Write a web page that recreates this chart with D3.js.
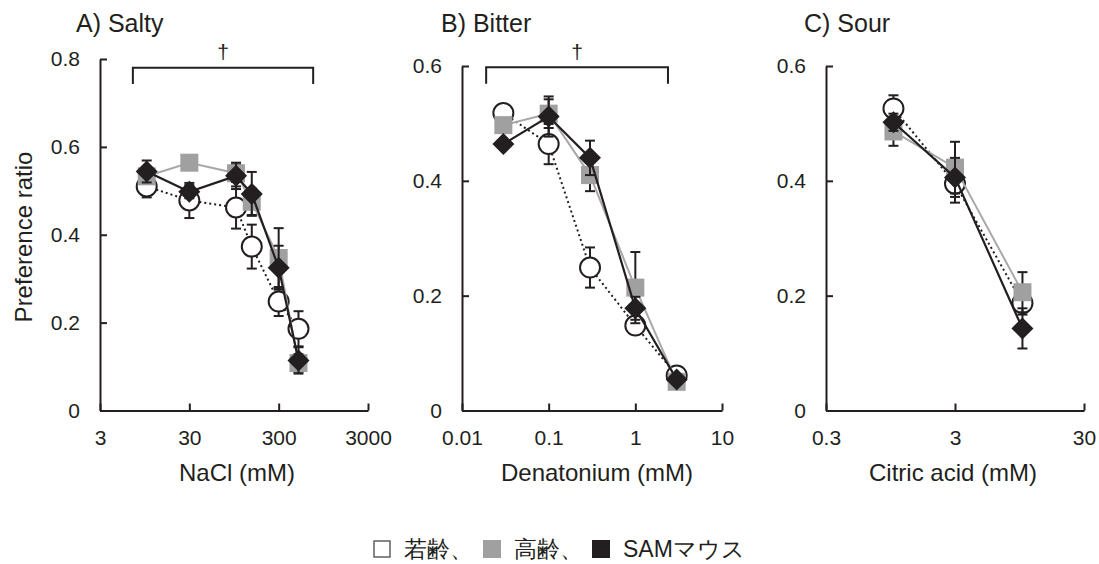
<!DOCTYPE html>
<html>
<head>
<meta charset="utf-8">
<script src="https://cdn.jsdelivr.net/npm/d3@7"></script>
<style>
  body { margin: 0; background: #fff; }
  text { font-family: "Liberation Sans", Arial, sans-serif; fill: #231f20; }
</style>
</head>
<body>
<div id="chart"></div>
<script>
// chart data
var saltyConc = [10, 30, 100, 150, 300, 500];
var saltyYoung = [0.51, 0.478, 0.462, 0.373, 0.248, 0.186];
var saltyYoungSE = [0.025, 0.04, 0.048, 0.05, 0.033, 0.04];
var saltyAged = [0.533, 0.564, 0.54, 0.475, 0.347, 0.108];
var saltyAgedSE = [0.01, 0.01, 0.02, 0.03, 0.068, 0.02];
var saltySAM = [0.544, 0.498, 0.534, 0.493, 0.325, 0.114];
var saltySAMSE = [0.025, 0.015, 0.03, 0.05, 0.05, 0.03];

var bitterConc = [0.03, 0.1, 0.3, 1, 3];
var bitterYoung = [0.518, 0.464, 0.249, 0.148, 0.061];
var bitterYoungSE = [0.01, 0.035, 0.035, 0.01, 0.008];
var bitterAged = [0.497, 0.517, 0.41, 0.214, 0.05];
var bitterAgedSE = [0.01, 0.025, 0.028, 0.062, 0.005];
var bitterSAM = [0.464, 0.512, 0.44, 0.178, 0.054];
var bitterSAMSE = [0.005, 0.035, 0.03, 0.02, 0.005];

var sourConc = [1, 3, 10];
var sourYoung = [0.526, 0.395, 0.187];
var sourYoungSE = [0.023, 0.033, 0.02];
var sourAged = [0.486, 0.423, 0.206];
var sourAgedSE = [0.025, 0.045, 0.035];
var sourSAM = [0.502, 0.406, 0.143];
var sourSAMSE = [0.015, 0.034, 0.035];

var saltyXTicks = [3, 30, 300, 3000];
var bitterXTicks = [0.01, 0.1, 1, 10];
var sourXTicks = [0.3, 3, 30];
var saltyYTicks = [0, 0.2, 0.4, 0.6, 0.8];
var otherYTicks = [0, 0.2, 0.4, 0.6];

var legendLabels = ["若齢、", "高齢、", "SAMマウス"];

var svgWidth = 1099;
var svgHeight = 564;
var dark = "#231f20";
var grey = "#a0a0a0";
var greyLine = "#a8a8a8";

var svg = d3.select("#chart").append("svg")
    .attr("width", svgWidth)
    .attr("height", svgHeight);

var panels = [
    {title: "A) Salty", xlabel: "NaCl (mM)", conc: saltyConc, xticks: saltyXTicks, yticks: saltyYTicks,
     left: 100, right: 368, top: 59, yMax: 0.8, titleX: 76, labelX: 237,
     young: saltyYoung, youngSE: saltyYoungSE, aged: saltyAged, agedSE: saltyAgedSE, sam: saltySAM, samSE: saltySAMSE,
     bracket: [7, 730, 0.78, 0.743]},
    {title: "B) Bitter", xlabel: "Denatonium (mM)", conc: bitterConc, xticks: bitterXTicks, yticks: otherYTicks,
     left: 462, right: 722, top: 66, yMax: 0.6, titleX: 441, labelX: 597,
     young: bitterYoung, youngSE: bitterYoungSE, aged: bitterAged, agedSE: bitterAgedSE, sam: bitterSAM, samSE: bitterSAMSE,
     bracket: [0.019, 2.38, 0.598, 0.569]},
    {title: "C) Sour", xlabel: "Citric acid (mM)", conc: sourConc, xticks: sourXTicks, yticks: otherYTicks,
     left: 826, right: 1084, top: 66, yMax: 0.6, titleX: 804, labelX: 953,
     young: sourYoung, youngSE: sourYoungSE, aged: sourAged, agedSE: sourAgedSE, sam: sourSAM, samSE: sourSAMSE,
     bracket: null}
];

var bottom = 410.5;

panels.forEach(function(p) {
    var x = d3.scaleLog()
        .domain([p.xticks[0], p.xticks[p.xticks.length - 1]])
        .range([p.left, p.right]);
    var y = d3.scaleLinear()
        .domain([0, p.yMax])
        .range([bottom, p.top]);

    var g = svg.append("g");

    // axes - ticks pointing inwards like the excel original
    var xAxis = g.append("g")
        .attr("transform", `translate(0, ${bottom})`)
        .call(d3.axisBottom(x).tickValues(p.xticks).tickSizeInner(-7).tickSizeOuter(0).tickPadding(16)
            .tickFormat(d => String(d)));
    var yAxis = g.append("g")
        .attr("transform", `translate(${p.left}, 0)`)
        .call(d3.axisLeft(y).tickValues(p.yticks).tickSizeInner(-7).tickSizeOuter(0).tickPadding(27)
            .tickFormat(d => d === 0 ? "0" : d3.format(".1f")(d)));

    [xAxis, yAxis].forEach(function(a) {
        a.select(".domain").attr("stroke", dark).attr("stroke-width", 2);
        a.selectAll(".tick line").attr("stroke", dark).attr("stroke-width", 2);
        a.selectAll(".tick text").attr("font-size", 21).attr("fill", dark)
            .attr("font-family", "Liberation Sans, Arial, sans-serif");
    });
    xAxis.selectAll(".tick text").attr("dy", "0.71em").attr("y", 20);
    yAxis.selectAll(".tick text").attr("x", -20);

    // title + axis label
    g.append("text")
        .attr("x", p.titleX).attr("y", 32)
        .attr("font-size", 25)
        .text(p.title);
    g.append("text")
        .attr("x", p.labelX).attr("y", 481)
        .attr("text-anchor", "middle")
        .attr("font-size", 24)
        .text(p.xlabel);

    // significance bracket
    if (p.bracket) {
        var b = p.bracket;
        g.append("path")
            .attr("d", `M${x(b[0])},${y(b[3])}V${y(b[2])}H${x(b[1])}V${y(b[3])}`)
            .attr("fill", "none")
            .attr("stroke", dark)
            .attr("stroke-width", 2);
        g.append("text")
            .attr("x", (x(b[0]) + x(b[1])) / 2).attr("y", 59)
            .attr("text-anchor", "middle")
            .attr("font-size", 21)
            .text("†");
    }

    var series = [
        {vals: p.young, se: p.youngSE, line: dark, dash: "2,3", width: 2, marker: "circle"},
        {vals: p.aged, se: p.agedSE, line: greyLine, dash: null, width: 2, marker: "square"},
        {vals: p.sam, se: p.samSE, line: dark, dash: null, width: 2.2, marker: "diamond"}
    ];

    series.forEach(function(s) {
        var pts = p.conc.map((c, i) => ({c: c, v: s.vals[i], e: s.se[i]}));

        var line = d3.line()
            .x(d => x(d.c))
            .y(d => y(d.v));
        g.append("path")
            .datum(pts)
            .attr("d", line)
            .attr("fill", "none")
            .attr("stroke", s.line)
            .attr("stroke-width", s.width)
            .attr("stroke-dasharray", s.dash);

        // error bars
        var eb = g.append("g").selectAll("g")
            .data(pts)
            .enter()
            .append("g");
        eb.append("line")
            .attr("x1", d => x(d.c)).attr("x2", d => x(d.c))
            .attr("y1", d => y(d.v - d.e)).attr("y2", d => y(d.v + d.e))
            .attr("stroke", dark).attr("stroke-width", 2);
        [-1, 1].forEach(function(sign) {
            eb.append("line")
                .attr("x1", d => x(d.c) - 5).attr("x2", d => x(d.c) + 5)
                .attr("y1", d => y(d.v + sign * d.e)).attr("y2", d => y(d.v + sign * d.e))
                .attr("stroke", dark).attr("stroke-width", 2);
        });

        // markers
        var m = g.append("g").selectAll("path")
            .data(pts)
            .enter();
        if (s.marker === "circle") {
            m.append("circle")
                .attr("cx", d => x(d.c)).attr("cy", d => y(d.v))
                .attr("r", 10)
                .attr("fill", "#fff")
                .attr("stroke", dark)
                .attr("stroke-width", 2);
        } else if (s.marker === "square") {
            m.append("rect")
                .attr("x", d => x(d.c) - 9).attr("y", d => y(d.v) - 9)
                .attr("width", 18).attr("height", 18)
                .attr("fill", grey);
        } else {
            m.append("path")
                .attr("d", d => `M${x(d.c)},${y(d.v) - 11}l11,11l-11,11l-11,-11z`)
                .attr("fill", dark);
        }
    });
});

// y axis title (shared)
svg.append("text")
    .attr("transform", "translate(32, 237) rotate(-90)")
    .attr("text-anchor", "middle")
    .attr("font-size", 24)
    .text("Preference ratio");

// legend
var legendX = [373, 483, 592];
var legendFill = ["#fff", grey, dark];
var legend = svg.append("g");
legendLabels.forEach(function(lbl, i) {
    legend.append("rect")
        .attr("x", legendX[i] + (i === 0 ? 1 : 0)).attr("y", 540 + (i === 0 ? 1 : 0))
        .attr("width", i === 0 ? 16 : 18).attr("height", i === 0 ? 16 : 18)
        .attr("fill", legendFill[i])
        .attr("stroke", i === 0 ? "#555" : "none")
        .attr("stroke-width", 1.4);
    legend.append("text")
        .attr("x", legendX[i] + 31).attr("y", 557)
        .attr("font-size", 23)
        .attr("font-family", "Liberation Sans, 'Noto Sans CJK JP', sans-serif")
        .text(lbl);
});
</script>
</body>
</html>
